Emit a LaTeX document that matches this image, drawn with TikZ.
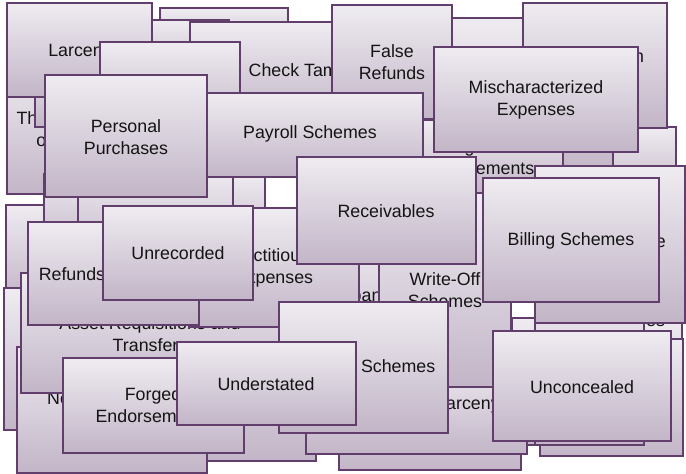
\documentclass[tikz,border=0pt]{standalone}
\usepackage{fontspec}
\setmainfont{Liberation Sans}
\definecolor{bordc}{RGB}{98,62,108}
\definecolor{topc}{RGB}{239,236,241}
\definecolor{botc}{RGB}{194,181,199}
\definecolor{txtc}{RGB}{20,20,20}
\newcommand\drawbox[8]{%
  \node[fbox, minimum width={(#4-#2)*1pt}, minimum height={(#5-#3)*1pt}] (#1) at (#2,#3) {};
  \node[ftxt] (#1-t) at (#6,#7) {#8};
}
\newcommand\plainbox[5]{%
  \node[fbox, minimum width={(#4-#2)*1pt}, minimum height={(#5-#3)*1pt}] (#1) at (#2,#3) {};
}
\begin{document}
\begin{tikzpicture}[x=1pt,y=-1pt,
  fbox/.style={draw=bordc, line width=1.1pt, top color=topc, bottom color=botc, inner sep=0pt, outer sep=0pt, anchor=north west},
  ftxt/.style={text=txtc, align=center, inner sep=0pt, font=\fontsize{17.8}{21.5}\selectfont}]
\useasboundingbox (0,0) rectangle (686,474);
\plainbox{s1}{160}{8}{288}{60}
\plainbox{s2}{120}{20}{229}{80}
\drawbox{th}{7}{64}{140}{194}{70}{129}{Theft of Cash\\on Hand}
\plainbox{t2}{35}{60}{120}{127}
\drawbox{lar}{7}{3}{152}{97}{80}{52}{Larceny}
\plainbox{q}{440}{18}{640}{175}
\drawbox{ct}{190}{22}{446}{122}{318}{72}{Check Tampering}
\plainbox{t}{100}{42}{240}{130}
\drawbox{fr}{332}{5}{452}{119}{392}{62}{False\\Refunds}
\plainbox{u}{613}{127}{676}{200}
\drawbox{com}{523}{3}{667}{128}{595}{67}{Commission\\Schemes}
\drawbox{rd}{387}{120}{563}{194}{475}{157}{Register\\Disbursements}
\plainbox{w1}{6}{205}{150}{300}
\plainbox{w3}{44}{174}{265}{250}
\plainbox{w4}{78}{170}{233}{260}
\drawbox{pay}{197}{93}{423}{177}{310}{134}{Payroll Schemes}
\plainbox{w2}{4}{288}{150}{430}
\plainbox{bb}{190}{300}{316}{461}
\drawbox{no}{17}{347}{207}{473}{112}{409}{Non-Accomplice\\Vendor}
\drawbox{aa}{290}{240}{400}{354}{330}{297}{Shell Company}
\plainbox{bbb}{339}{380}{521}{470}
\drawbox{y}{512}{318}{682}{445}{602}{322}{Falsified Wages}
\plainbox{z}{540}{339}{683}{456}
\plainbox{yy}{535}{290}{644}{445}
\drawbox{lb}{306}{360}{527}{454}{468}{405}{Larceny}
\drawbox{wo}{379}{193}{511}{387}{445}{290}{Write-Off\\Schemes}
\drawbox{ap}{535}{166}{685}{323}{610}{243}{Altered Payee}
\drawbox{asset}{21}{273}{279}{393}{150}{334}{Asset Requisitions and\\Transfers}
\drawbox{fict}{189}{208}{359}{327}{274}{268}{Fictitious\\Expenses}
\drawbox{ref}{28}{222}{199}{325}{114}{274}{Refunds and Other}
\drawbox{fe}{63}{358}{244}{453}{153}{405}{Forged\\Endorsements}
\drawbox{lap}{279}{302}{448}{433}{364}{368}{Lapping Schemes}
\drawbox{pp}{45}{75}{207}{197}{126}{137}{Personal\\Purchases}
\drawbox{und}{177}{342}{356}{425}{266}{384}{Understated}
\drawbox{unr}{103}{206}{253}{300}{178}{253}{Unrecorded}
\drawbox{rec}{297}{157}{476}{264}{386}{211}{Receivables}
\drawbox{mis}{434}{47}{638}{152}{536}{100}{Mischaracterized\\Expenses}
\drawbox{bil}{483}{178}{659}{302}{571}{241}{Billing Schemes}
\drawbox{unc}{493}{331}{671}{441}{582}{387}{Unconcealed}
\end{tikzpicture}
\end{document}
